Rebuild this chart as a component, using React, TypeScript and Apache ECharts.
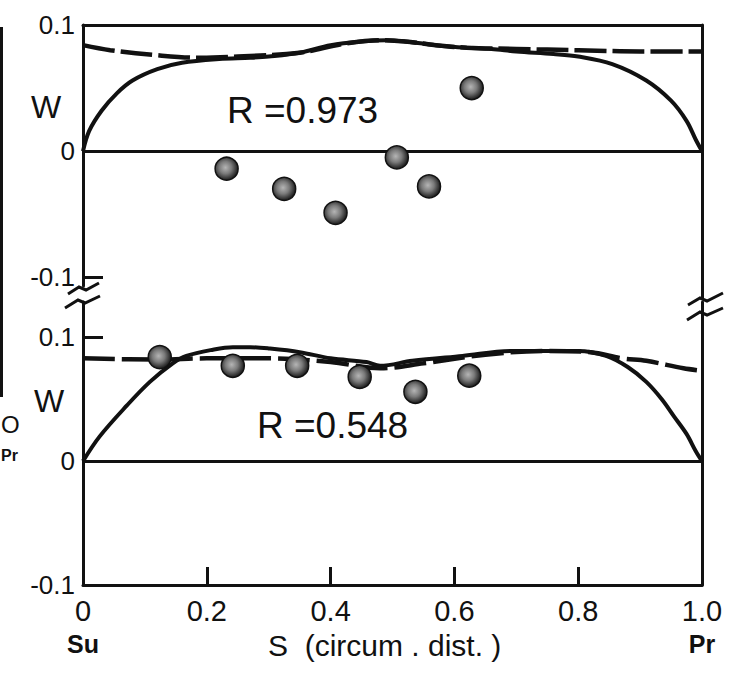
import React, { useEffect, useRef } from 'react';
import * as echarts from 'echarts';

// ---- tick labels ----
const S_TICKS = [0, 0.2, 0.4, 0.6, 0.8, 1.0];
const W_TICKS = [-0.1, 0, 0.1];

// ---- upper panel (R = 0.973) ----
const topSolidS = [0, 0.01, 0.03, 0.055, 0.08, 0.12, 0.16, 0.22, 0.27, 0.30, 0.35, 0.40, 0.45, 0.49, 0.52, 0.57, 0.62, 0.66, 0.70, 0.76, 0.80, 0.855, 0.91, 0.95, 0.975, 0.99, 1.0];
const topSolidW = [0, 0.016, 0.032, 0.046, 0.056, 0.065, 0.070, 0.073, 0.074, 0.075, 0.078, 0.084, 0.087, 0.088, 0.087, 0.084, 0.082, 0.081, 0.079, 0.077, 0.075, 0.069, 0.056, 0.040, 0.024, 0.009, 0];
const topDashS = [0, 0.044, 0.12, 0.19, 0.25, 0.35, 0.42, 0.48, 0.52, 0.57, 0.62, 0.70, 0.80, 0.90, 1.0];
const topDashW = [0.084, 0.080, 0.076, 0.074, 0.075, 0.078, 0.085, 0.088, 0.087, 0.084, 0.082, 0.081, 0.080, 0.079, 0.079];
const topPointS = [0.232, 0.325, 0.408, 0.507, 0.559, 0.628];
const topPointW = [-0.014, -0.030, -0.049, -0.005, -0.028, 0.050];

// ---- lower panel (R = 0.548) ----
const botSolidS = [0, 0.027, 0.071, 0.108, 0.145, 0.167, 0.21, 0.242, 0.27, 0.30, 0.35, 0.40, 0.458, 0.48, 0.532, 0.613, 0.694, 0.774, 0.80, 0.845, 0.88, 0.91, 0.935, 0.955, 0.975, 0.99, 1.0];
const botSolidW = [0, 0.020, 0.045, 0.064, 0.079, 0.085, 0.090, 0.092, 0.092, 0.091, 0.088, 0.083, 0.080, 0.077, 0.081, 0.085, 0.089, 0.089, 0.089, 0.085, 0.076, 0.064, 0.050, 0.036, 0.022, 0.008, 0];
const botDashS = [0, 0.12, 0.2, 0.3, 0.4, 0.48, 0.55, 0.65, 0.75, 0.82, 0.87, 0.91, 0.97, 1.0];
const botDashW = [0.083, 0.082, 0.083, 0.083, 0.080, 0.075, 0.079, 0.086, 0.089, 0.088, 0.083, 0.081, 0.075, 0.073];
const botPointS = [0.124, 0.242, 0.346, 0.447, 0.537, 0.624];
const botPointW = [0.084, 0.077, 0.077, 0.068, 0.056, 0.069];

const pairs = (xs: number[], ys: number[]) => xs.map((x, i) => [x, ys[i]]);

export default function App() {
  const ref = useRef<HTMLDivElement>(null);
  useEffect(() => {
    const chart = echarts.init(ref.current!, null, { renderer: 'svg' });
    const FONT = '"Liberation Sans", Arial, sans-serif';
    const K = '#111';
    const AX = 3;

    const dot = () =>
      new echarts.graphic.RadialGradient(0.45, 0.45, 0.6, [
        { offset: 0, color: '#b5b5b5' },
        { offset: 0.45, color: '#7a7a7a' },
        { offset: 0.8, color: '#333' },
        { offset: 1, color: '#111' },
      ]);

    const yLabel = (v: number) => (Math.abs(v) < 1e-9 ? '0' : v > 0 ? '0.1' : '-0.1');

    const zeroLine = {
      silent: true,
      symbol: 'none',
      label: { show: false },
      lineStyle: { color: K, width: AX, type: 'solid' },
      data: [{ yAxis: 0 }],
    };

    const zig = (pts: number[][]) => ({
      type: 'polyline',
      shape: { points: pts },
      style: { stroke: K, lineWidth: 3, fill: null },
    });

    const option: any = {
      animation: false,
      backgroundColor: '#fff',
      grid: [
        { left: 83, right: 27, top: 25, height: 261 },
        { left: 83, right: 27, top: 302, height: 283 },
      ],
      xAxis: [
        {
          gridIndex: 0, type: 'value', min: 0, max: 1, position: 'top',
          axisLine: { show: true, onZero: false, lineStyle: { color: K, width: AX } },
          axisTick: { show: false }, axisLabel: { show: false }, splitLine: { show: false },
        },
        {
          gridIndex: 1, type: 'value', min: 0, max: 1, interval: 0.2, position: 'bottom',
          axisLine: { show: true, onZero: false, lineStyle: { color: K, width: AX } },
          axisTick: { show: true, inside: true, length: 18, customValues: [0.2, 0.4, 0.6, 0.8], lineStyle: { color: K, width: 3 } },
          axisLabel: {
            show: true, margin: 10, color: K, fontFamily: FONT, fontSize: 29, lineHeight: 32,
            customValues: S_TICKS,
            formatter: (v: number) =>
              Math.abs(v) < 1e-9 ? '0\n{u|Su}' : Math.abs(v - 1) < 1e-9 ? '1.0\n{u|Pr}' : v.toFixed(1),
            rich: { u: { fontFamily: FONT, fontSize: 25, lineHeight: 34, color: K, fontWeight: 'bold' } },
          },
          splitLine: { show: false },
        },
      ],
      yAxis: [
        {
          gridIndex: 0, type: 'value', min: -0.107, max: 0.1, position: 'left',
          axisLine: { show: true, onZero: false, lineStyle: { color: K, width: AX } },
          axisTick: { show: true, inside: true, length: 20, customValues: [-0.1], lineStyle: { color: K, width: 3 } },
          axisLabel: { show: true, margin: 8, color: K, fontFamily: FONT, fontSize: 26, customValues: W_TICKS, formatter: yLabel },
          splitLine: { show: false },
        },
        {
          gridIndex: 0, type: 'value', min: -0.107, max: 0.1, position: 'right',
          axisLine: { show: true, onZero: false, lineStyle: { color: K, width: AX } },
          axisTick: { show: false }, axisLabel: { show: false }, splitLine: { show: false },
        },
        {
          gridIndex: 1, type: 'value', min: -0.1, max: 0.1285, position: 'left',
          axisLine: { show: true, onZero: false, lineStyle: { color: K, width: AX } },
          axisTick: { show: true, inside: true, length: 20, customValues: [0.1], lineStyle: { color: K, width: 3 } },
          axisLabel: { show: true, margin: 8, color: K, fontFamily: FONT, fontSize: 26, customValues: W_TICKS, formatter: yLabel },
          splitLine: { show: false },
        },
        {
          gridIndex: 1, type: 'value', min: -0.1, max: 0.1285, position: 'right',
          axisLine: { show: true, onZero: false, lineStyle: { color: K, width: AX } },
          axisTick: { show: false }, axisLabel: { show: false }, splitLine: { show: false },
        },
      ],
      series: [
        {
          type: 'line', xAxisIndex: 0, yAxisIndex: 0, data: pairs(topSolidS, topSolidW),
          showSymbol: false, smooth: 0.35, lineStyle: { color: K, width: 4 }, markLine: zeroLine, z: 3,
        },
        {
          type: 'line', xAxisIndex: 0, yAxisIndex: 0, data: pairs(topDashS, topDashW),
          showSymbol: false, smooth: 0.35, lineStyle: { color: K, width: 4.5, type: [32, 6] }, z: 3,
        },
        {
          type: 'scatter', xAxisIndex: 0, yAxisIndex: 0, data: pairs(topPointS, topPointW),
          symbol: 'circle', symbolSize: 23, itemStyle: { color: dot(), borderColor: '#111', borderWidth: 1.5, opacity: 1 }, z: 5,
        },
        {
          type: 'line', xAxisIndex: 1, yAxisIndex: 2, data: pairs(botSolidS, botSolidW),
          showSymbol: false, smooth: 0.35, lineStyle: { color: K, width: 4 }, markLine: zeroLine, z: 3,
        },
        {
          type: 'line', xAxisIndex: 1, yAxisIndex: 2, data: pairs(botDashS, botDashW),
          showSymbol: false, smooth: 0.35, lineStyle: { color: K, width: 4.5, type: [32, 7] }, z: 3,
        },
        {
          type: 'scatter', xAxisIndex: 1, yAxisIndex: 2, data: pairs(botPointS, botPointW),
          symbol: 'circle', symbolSize: 23, itemStyle: { color: dot(), borderColor: '#111', borderWidth: 1.5, opacity: 1 }, z: 5,
        },
      ],
      graphic: [
        { type: 'text', left: 31, top: 91, style: { text: 'W', fontFamily: FONT, fontSize: 32, fill: K } },
        { type: 'text', left: 34, top: 385, style: { text: 'W', fontFamily: FONT, fontSize: 32, fill: K } },
        { type: 'text', left: 227, top: 92, style: { text: 'R =0.973', fontFamily: FONT, fontSize: 37, fill: K } },
        { type: 'text', left: 257, top: 407, style: { text: 'R =0.548', fontFamily: FONT, fontSize: 37, fill: K } },
        { type: 'text', left: 268, top: 630, style: { text: 'S  (circum . dist. )', fontFamily: FONT, fontSize: 30, fill: K } },
        // break marks on the vertical axes
        zig([[68, 294], [79, 287], [86, 290], [99, 283]]),
        zig([[65, 308], [78, 300], [85, 303], [100, 296]]),
        zig([[688, 305], [700, 298], [707, 301], [723, 293]]),
        zig([[687, 320], [700, 312], [707, 315], [723, 308]]),
        { type: 'line', shape: { x1: 702.5, y1: 286, x2: 702.5, y2: 299 }, style: { stroke: K, lineWidth: 3 } },
        // residue of the neighbouring figure at the left edge
        { type: 'line', shape: { x1: 1.5, y1: 27, x2: 1.5, y2: 397 }, style: { stroke: K, lineWidth: 3 } },
        { type: 'text', left: 1, top: 412, style: { text: 'O', fontFamily: FONT, fontSize: 24, fill: K } },
        { type: 'text', left: 1, top: 447, style: { text: 'Pr', fontFamily: FONT, fontSize: 16, fontWeight: 'bold', fill: K } },
      ],
    };

    chart.setOption(option);
    return () => chart.dispose();
  }, []);

  return (
    <div
      ref={ref}
      style={{ position: 'fixed', left: 0, top: 0, width: 729, height: 687, background: '#fff' }}
    />
  );
}
